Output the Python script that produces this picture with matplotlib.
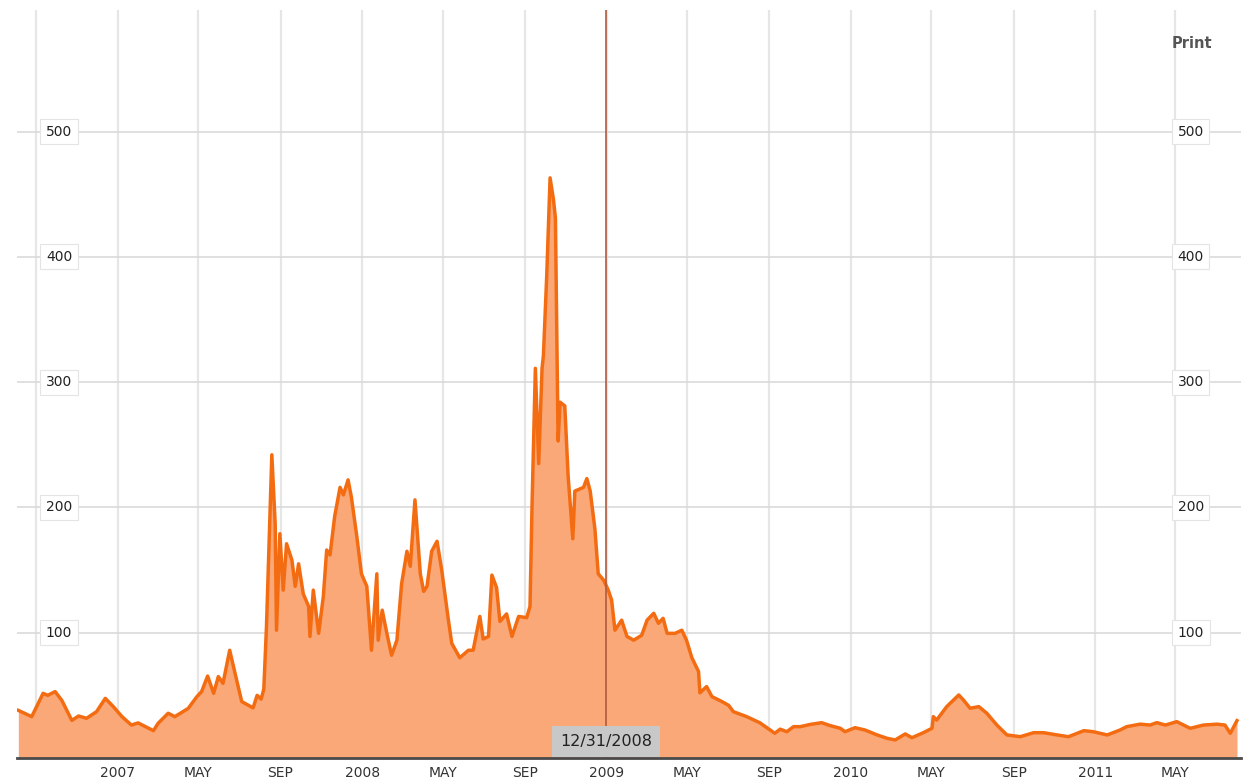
import pandas as pd
import numpy as np
import matplotlib
matplotlib.use('Agg')
import matplotlib.pyplot as plt

# data
dates = [
    '2006-08-05', '2006-08-25', '2006-09-11', '2006-09-18', '2006-09-29', '2006-10-09',
    '2006-10-24', '2006-11-03', '2006-11-15', '2006-11-30', '2006-12-13', '2006-12-25',
    '2007-01-07', '2007-01-21', '2007-01-31', '2007-02-23', '2007-03-02', '2007-03-17',
    '2007-03-27', '2007-04-16', '2007-04-29', '2007-05-06', '2007-05-15', '2007-05-24',
    '2007-05-31', '2007-06-07', '2007-06-17', '2007-06-25', '2007-07-05', '2007-07-22',
    '2007-07-28', '2007-08-03', '2007-08-07', '2007-08-11', '2007-08-19', '2007-08-24',
    '2007-08-26', '2007-08-31', '2007-09-05', '2007-09-10', '2007-09-18', '2007-09-23',
    '2007-09-28', '2007-10-05', '2007-10-13', '2007-10-15', '2007-10-20', '2007-10-28',
    '2007-11-04', '2007-11-09', '2007-11-14', '2007-11-21', '2007-11-29', '2007-12-04',
    '2007-12-11', '2007-12-16', '2007-12-24', '2007-12-31', '2008-01-08', '2008-01-15',
    '2008-01-23', '2008-01-25', '2008-01-31', '2008-02-07', '2008-02-14', '2008-02-22',
    '2008-02-29', '2008-03-08', '2008-03-13', '2008-03-20', '2008-03-28', '2008-04-02',
    '2008-04-07', '2008-04-14', '2008-04-22', '2008-04-29', '2008-05-09', '2008-05-14',
    '2008-05-26', '2008-06-08', '2008-06-15', '2008-06-25', '2008-06-30', '2008-07-08',
    '2008-07-13', '2008-07-20', '2008-07-25', '2008-08-04', '2008-08-12', '2008-08-22',
    '2008-09-03', '2008-09-08', '2008-09-11', '2008-09-16', '2008-09-21', '2008-09-26',
    '2008-09-28', '2008-10-03', '2008-10-08', '2008-10-13', '2008-10-16', '2008-10-20',
    '2008-10-23', '2008-10-30', '2008-11-04', '2008-11-11', '2008-11-14', '2008-11-27',
    '2008-12-02', '2008-12-07', '2008-12-14', '2008-12-19', '2008-12-27', '2009-01-03',
    '2009-01-08', '2009-01-13', '2009-01-23', '2009-01-31', '2009-02-10', '2009-02-22',
    '2009-03-02', '2009-03-12', '2009-03-19', '2009-03-26', '2009-04-01', '2009-04-13',
    '2009-04-23', '2009-04-30', '2009-05-08', '2009-05-18', '2009-05-20', '2009-05-30',
    '2009-06-07', '2009-06-22', '2009-07-02', '2009-07-09', '2009-07-29', '2009-08-18',
    '2009-09-09', '2009-09-17', '2009-09-27', '2009-10-07', '2009-10-17', '2009-11-01',
    '2009-11-18', '2009-12-01', '2009-12-16', '2009-12-23', '2010-01-07', '2010-01-22',
    '2010-02-09', '2010-02-24', '2010-03-08', '2010-03-23', '2010-04-02', '2010-04-19',
    '2010-05-02', '2010-05-04', '2010-05-09', '2010-05-24', '2010-06-11', '2010-06-18',
    '2010-06-28', '2010-07-11', '2010-07-23', '2010-08-07', '2010-08-22', '2010-09-11',
    '2010-10-01', '2010-10-16', '2010-11-05', '2010-11-22', '2010-12-15', '2010-12-29',
    '2011-01-19', '2011-02-07', '2011-02-17', '2011-03-09', '2011-03-24', '2011-04-03',
    '2011-04-16', '2011-05-03', '2011-05-23', '2011-06-12', '2011-07-02', '2011-07-14',
    '2011-07-22', '2011-08-01',
]
values = [
    38, 33, 51.6, 50, 53, 46,
    30, 33.5, 31.7, 37, 47.6, 41,
    33, 26.3, 28, 21.8, 27.7, 35.7,
    33, 39.6, 49, 53, 65.4, 51.6,
    65, 59.6, 86, 67.6, 45, 40,
    50, 47, 55, 105, 242, 187,
    102, 179, 134, 171, 158, 137,
    155, 131, 121, 97, 134, 99.5,
    129, 166, 162, 193, 216, 210,
    222, 208, 177, 147, 137, 86,
    147, 94, 118, 99.5, 82, 94,
    139, 165, 153, 206, 147, 133,
    137, 165, 173, 150, 110, 91.5,
    80, 86, 86, 113, 95, 97,
    146, 136, 109, 115, 97, 113,
    112, 121, 201, 311, 235, 311,
    321, 385, 463, 446, 431, 253,
    284, 281, 225, 175, 213, 216,
    223, 213, 183, 147, 142, 134,
    126, 102, 110, 97, 94, 98,
    110, 115.5, 107.5, 111.5, 99.5, 99.5,
    102, 94, 80, 69, 52, 57,
    49, 45, 42, 37, 33, 28,
    19.7, 23, 21, 25, 25, 26.8,
    28.2, 25.8, 23.7, 21, 24.2, 22.3,
    18.4, 15.7, 14.4, 19.2, 16.2, 20.2,
    23.7, 33, 30.3, 41, 50.3, 46.3,
    39.7, 41, 35.7, 26.3, 18.4, 17,
    20.2, 20.2, 18.4, 17, 21.8, 21,
    18.4, 22.3, 25, 27, 26.3, 28.2,
    26.3, 29, 23.7, 26.3, 27, 26.3,
    19.7, 29.8,
]
grid_months = ['2006-09-01', '2007-01-01', '2007-05-01', '2007-09-01', '2008-01-01',
               '2008-05-01', '2008-09-01', '2009-01-01', '2009-05-01', '2009-09-01',
               '2010-01-01', '2010-05-01', '2010-09-01', '2011-01-01', '2011-05-01']
grid_labels = ['', '2007', 'MAY', 'SEP', '2008', 'MAY', 'SEP', '2009', 'MAY', 'SEP',
               '2010', 'MAY', 'SEP', '2011', 'MAY']
y_ticks = [100, 200, 300, 400, 500]
marker_date = '2008-12-31'
marker_label = '12/31/2008'

x = pd.to_datetime(dates)
y = np.array(values)

fig = plt.figure(figsize=(12.49, 7.83), dpi=100)
ax = fig.add_axes([17/1249, 25/783, 1224/1249, 748/783])

# gridlines
for g in pd.to_datetime(grid_months):
    ax.axvline(g, color='#e6e6e6', lw=1.6, zorder=0)
for t in y_ticks:
    ax.axhline(t, color='#dadada', lw=1.2, zorder=0)

ax.fill_between(x, 0, y, color='#faa878', lw=0, zorder=1)
ax.plot(x, y, color='#f46c12', lw=2.5, zorder=2, solid_joinstyle='round')

# marker line for 12/31/2008
md = pd.to_datetime(marker_date)
ax.axvline(md, color='#b35a3c', lw=1.2, zorder=3)
ax.text(md, 13.5, marker_label, ha='center', va='center', fontsize=11.5, color='#222222',
        zorder=4, bbox=dict(boxstyle='square,pad=0.5', fc='#c8c8c8', ec='none'))

ax.axhline(0, color='#4a4a4a', lw=2, zorder=5, clip_on=False)

# y labels on both sides
for t in y_ticks:
    for xa in (0.0343, 0.959):
        ax.text(xa, t, str(t), transform=ax.get_yaxis_transform(), ha='center', va='center',
                fontsize=10, color='#222222', zorder=4,
                bbox=dict(boxstyle='square,pad=0.4', fc='white', ec='#e4e4e4', lw=0.8))

# x labels
for g, lab in zip(pd.to_datetime(grid_months), grid_labels):
    ax.text(g, -12, lab, ha='center', va='center', fontsize=10, color='#333333',
            clip_on=False)

fig.text(1192/1249, 1 - 44/783, 'Print', ha='center', va='center', fontsize=10.5,
         fontweight='bold', color='#555555')

x0 = pd.Timestamp('2007-01-01')
ax.set_xlim(x0 + pd.Timedelta(days=-151), x0 + pd.Timedelta(days=1679))
ax.set_ylim(0, 597)
ax.set_xticks([])
ax.set_yticks([])
for s in ax.spines.values():
    s.set_visible(False)

fig.savefig('out.png', dpi=100)
